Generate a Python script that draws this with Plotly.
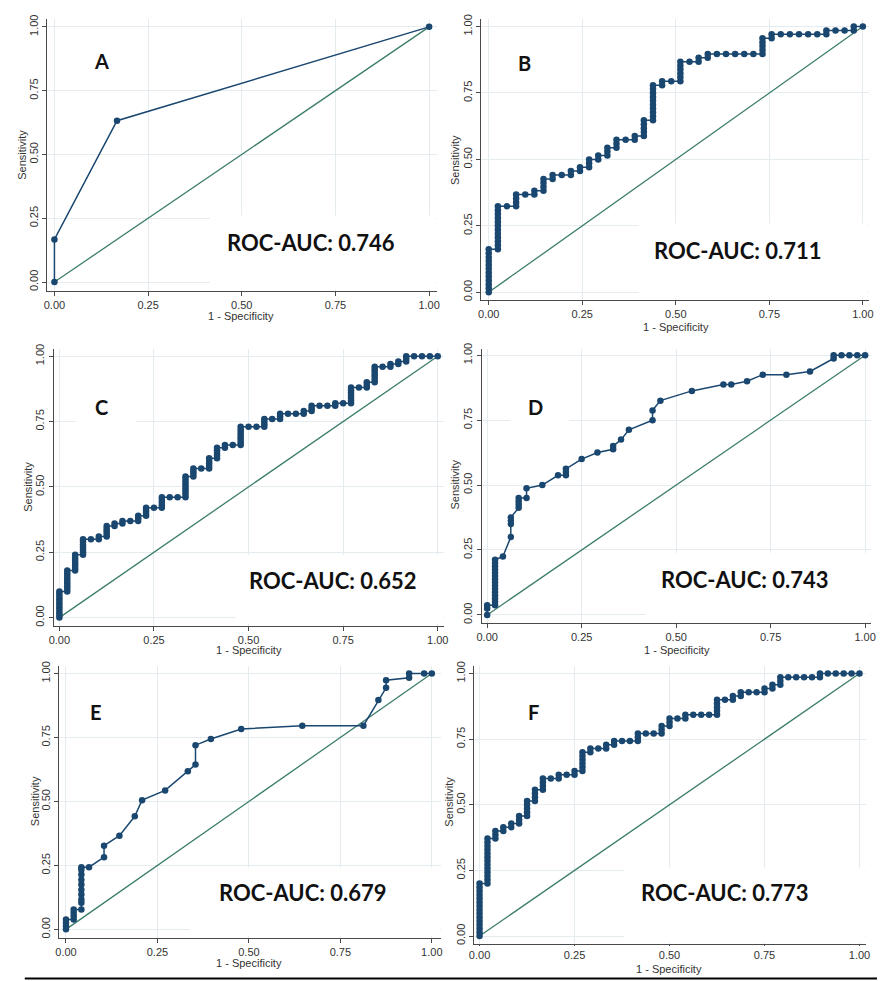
import plotly.graph_objects as go

# ------------------------------------------------------------------ data
panel_letters = ["A", "B", "C", "D", "E", "F"]
auc_values = ["0.746", "0.711", "0.652", "0.743", "0.679", "0.773"]
tick_values = [0.0, 0.25, 0.5, 0.75, 1.0]
tick_labels = ["0.00", "0.25", "0.50", "0.75", "1.00"]
x_title = "1 - Specificity"
y_title = "Sensitivity"
reference_x = [0.0, 1.0]
reference_y = [0.0, 1.0]

# Panel A: ROC coordinates
A_one_minus_spec = [0.0, 0.0, 0.167, 1.0]
A_sensitivity = [0.0, 0.167, 0.632, 1.0]

# Panel B: true-positive counts at each cutoff, listed per false-positive count 0..41
B_negatives, B_positives = 41, 68
B_tp_by_fp = [
    [0, 1, 2, 3, 4, 5, 6, 7, 8, 9, 10, 11],
    [11, 12, 13, 14, 15, 16, 17, 18, 19, 20, 21, 22],
    [22],
    [22, 23, 24, 25],
    [25],
    [25, 26],
    [26, 27, 28, 29],
    [29, 30],
    [30],
    [30, 31],
    [31, 32],
    [32, 33, 34],
    [34, 35],
    [35, 36, 37],
    [37, 38, 39],
    [39],
    [39, 40],
    [40, 41, 42, 43, 44],
    [44, 45, 46, 47, 48, 49, 50, 51, 52, 53],
    [53, 54],
    [54],
    [54, 55, 56, 57, 58, 59],
    [59],
    [59, 60],
    [60, 61],
    [61], [61], [61], [61], [61],
    [61, 62, 63, 64, 65],
    [65, 66],
    [66], [66], [66], [66], [66],
    [66, 67],
    [67], [67],
    [67, 68],
    [68],
]

# Panel C: per false-positive count 0..48
C_negatives, C_positives = 48, 100
C_tp_by_fp = [
    [0, 1, 2, 3, 4, 5, 6, 7, 8, 9, 10],
    [10, 11, 12, 13, 14, 15, 16, 17, 18],
    [18, 19, 20, 21, 22, 23, 24],
    [24, 25, 26, 27, 28, 29, 30],
    [30],
    [30, 31],
    [31, 32, 33, 34, 35],
    [35, 36],
    [36, 37],
    [37],
    [37, 38, 39],
    [39, 40, 41, 42],
    [42],
    [42, 43, 44, 45, 46],
    [46],
    [46],
    [46, 47, 48, 49, 50, 51, 52, 53, 54],
    [54, 55, 56, 57],
    [57],
    [57, 58, 59, 60, 61],
    [61, 62, 63, 64, 65],
    [65, 66],
    [66],
    [66, 67, 68, 69, 70, 71, 72, 73],
    [73],
    [73],
    [73, 74, 75, 76],
    [76],
    [76, 77, 78],
    [78],
    [78],
    [78, 79],
    [79, 80, 81],
    [81],
    [81],
    [81, 82],
    [82],
    [82, 83, 84, 85, 86, 87, 88],
    [88],
    [88, 89, 90],
    [90, 91, 92, 93, 94, 95, 96],
    [96],
    [96, 97],
    [97, 98],
    [98, 99, 100],
    [100], [100], [100], [100],
]

# Panel D: per false-positive count 0..48 (empty = no cutoff at that count)
D_negatives, D_positives = 48, 80
D_tp_by_fp = [
    [0, 2, 3],                                                  # 0
    [3, 4, 5, 6, 7, 8, 9, 10, 11, 12, 13, 14, 15, 16, 17],      # 1
    [18],                                                       # 2
    [24, 28, 29, 30],                                           # 3
    [33, 34, 35, 36],                                           # 4
    [36, 39],                                                   # 5
    [],                                                         # 6
    [40],                                                       # 7
    [],                                                         # 8
    [43],                                                       # 9
    [43, 44, 45],                                               # 10
    [],                                                         # 11
    [48],                                                       # 12
    [],                                                         # 13
    [50],                                                       # 14
    [],                                                         # 15
    [51, 52],                                                   # 16
    [54],                                                       # 17
    [57],                                                       # 18
    [], [],                                                     # 19-20
    [60, 63],                                                   # 21
    [66],                                                       # 22
    [], [], [],                                                 # 23-25
    [69],                                                       # 26
    [], [], [],                                                 # 27-29
    [71],                                                       # 30
    [71],                                                       # 31
    [],                                                         # 32
    [72],                                                       # 33
    [],                                                         # 34
    [74],                                                       # 35
    [], [],                                                     # 36-37
    [74],                                                       # 38
    [], [],                                                     # 39-40
    [75],                                                       # 41
    [], [],                                                     # 42-43
    [79, 80],                                                   # 44
    [80], [80], [80], [80],                                     # 45-48
]

# Panel E: ROC coordinates
E_one_minus_spec = [0.0, 0.0, 0.0, 0.0,
                    0.021, 0.021, 0.021, 0.021,
                    0.042, 0.042, 0.042, 0.042, 0.042, 0.042, 0.042, 0.042, 0.042, 0.042,
                    0.063, 0.104, 0.104, 0.146, 0.188, 0.208, 0.271, 0.333, 0.354, 0.354,
                    0.396, 0.479, 0.646, 0.813, 0.854, 0.875, 0.875, 0.938, 0.938, 0.979, 1.0]
E_sensitivity = [0.0, 0.013, 0.026, 0.039,
                 0.039, 0.052, 0.065, 0.078,
                 0.078, 0.104, 0.117, 0.136, 0.155, 0.175, 0.194, 0.214, 0.233, 0.243,
                 0.243, 0.282, 0.327, 0.366, 0.442, 0.505, 0.543, 0.618, 0.644, 0.72,
                 0.744, 0.783, 0.796, 0.796, 0.896, 0.944, 0.974, 0.983, 1.0, 1.0, 1.0]

# Panel F: per false-positive count 0..48
F_negatives, F_positives = 48, 70
F_tp_by_fp = [
    [0, 1, 2, 3, 4, 5, 6, 7, 8, 9, 10, 11, 12, 13, 14],
    [14, 15, 16, 17, 18, 19, 20, 21, 22, 23, 24, 25, 26],
    [26, 27, 28],
    [28, 29],
    [29, 30],
    [30, 31, 32],
    [32, 33, 34, 35, 36],
    [36, 37, 38, 39],
    [39, 40, 41, 42],
    [42],
    [42, 43],
    [43],
    [43, 44],
    [44, 45, 46, 47, 48, 49],
    [49, 50],
    [50],
    [50, 51],
    [51, 52],
    [52],
    [52],
    [52, 53, 54],
    [54],
    [54],
    [54, 55, 56],
    [56, 57, 58],
    [58],
    [58, 59],
    [59], [59], [59],
    [59, 60, 61, 62, 63],
    [63],
    [63, 64],
    [64, 65],
    [65], [65],
    [65, 66],
    [66, 67],
    [67, 68, 69],
    [69], [69], [69], [69],
    [69, 70],
    [70], [70], [70], [70], [70],
]


def roc_from_counts(tp_by_fp, n_neg, n_pos):
    xs, ys = [], []
    for fp, tps in enumerate(tp_by_fp):
        for tp in tps:
            xs.append(fp / n_neg)
            ys.append(tp / n_pos)
    return xs, ys


curves = [
    (A_one_minus_spec, A_sensitivity),
    roc_from_counts(B_tp_by_fp, B_negatives, B_positives),
    roc_from_counts(C_tp_by_fp, C_negatives, C_positives),
    roc_from_counts(D_tp_by_fp, D_negatives, D_positives),
    (E_one_minus_spec, E_sensitivity),
    roc_from_counts(F_tp_by_fp, F_negatives, F_positives),
]

# ------------------------------------------------------------------ layout (pixels)
W, H = 882, 981
NAVY = "#1a476f"
GREEN = "#3c7d69"
GRID = "#e4ecf0"
AXIS = "#4a4a4a"
TICKC = "#333333"

# left, right, top, bottom of axis box; pixel of x=0, x=1, y=0, y=1
geom = [
    (42.7, 437.0, 13.0, 287.0, 50.0, 429.0, 278.0, 21.0),
    (481.7, 873.7, 13.3, 296.0, 489.3, 867.7, 288.3, 20.7),
    (49.3, 444.0, 345.0, 624.0, 55.0, 437.7, 616.0, 352.7),
    (482.0, 876.0, 345.0, 621.7, 487.7, 870.0, 613.3, 351.7),
    (55.0, 441.0, 665.0, 938.3, 61.7, 431.7, 930.0, 672.3),
    (474.3, 871.0, 665.0, 945.0, 480.0, 864.3, 936.7, 672.3),
]
x_ticklen = [4, 4, 4, 4, 4, 1]
letter_pos = [(97.8, 55.5), (525.5, 57.2), (97.3, 403.8), (536.2, 403.8), (91.7, 710.8), (534.2, 710.8)]
auc_pos = [(310.0, 238.0), (741.0, 246.0), (332.2, 578.3), (748.8, 577.7), (301.2, 892.7), (728.3, 892.7)]
ytitle_pos = [(17.0, 150.0), (455.3, 155.0), (22.5, 484.0), (454.8, 482.3), (30.5, 800.7), (449.5, 801.0)]
xtitle_pos = [(239.0, 312.0), (678.3, 323.3), (246.7, 649.0), (679.3, 649.0), (246.7, 964.3), (671.7, 969.5)]
white_boxes = [
    (207, 436, 211, 285.5),
    (641, 872.5, 219, 294.5),
    (233, 443, 553, 622.5),
    (648, 875, 551, 620.5),
    (187, 440, 868, 937.0),
    (626, 870, 868, 943.5),
    (72, 133, 385, 428),
    (511, 571, 385, 428),
    (441, 446.5, 770, 835),
]


def px(x):
    return x / W


def py(y):
    return 1 - y / H


fig = go.Figure()
layout_axes = {}
annotations = []
shapes = []

for i, (L, R, T, B, x0, x1, y0, y1) in enumerate(geom):
    k = i + 1
    xname = "x" if k == 1 else f"x{k}"
    yname = "y" if k == 1 else f"y{k}"
    xs, ys = curves[i]
    fig.add_trace(go.Scatter(x=reference_x, y=reference_y, mode="lines",
                             line=dict(color=GREEN, width=1.3),
                             xaxis=xname, yaxis=yname, hoverinfo="skip"))
    fig.add_trace(go.Scatter(x=xs, y=ys, mode="lines+markers",
                             line=dict(color=NAVY, width=1.5),
                             marker=dict(size=6.5, color=NAVY),
                             xaxis=xname, yaxis=yname))
    common = dict(tickvals=tick_values, ticktext=tick_labels, showgrid=True,
                  gridcolor=GRID, gridwidth=1, zeroline=False, showline=True,
                  linecolor=AXIS, linewidth=1, ticks="outside",
                  tickcolor=AXIS, tickfont=dict(family="Liberation Sans", size=11, color=TICKC))
    layout_axes["xaxis" if k == 1 else f"xaxis{k}"] = dict(
        domain=[px(L), px(R)], range=[(L - x0) / (x1 - x0), (R - x0) / (x1 - x0)],
        anchor=yname, ticklen=x_ticklen[i], **common)
    layout_axes["yaxis" if k == 1 else f"yaxis{k}"] = dict(
        domain=[py(B), py(T)], range=[(y0 - B) / (y0 - y1), (y0 - T) / (y0 - y1)],
        anchor=xname, tickangle=-90, ticklen=4, **common)

for (x0b, x1b, y0b, y1b) in white_boxes:
    shapes.append(dict(type="rect", xref="paper", yref="paper",
                       x0=px(x0b), x1=px(x1b), y0=py(y1b), y1=py(y0b),
                       fillcolor="white", line=dict(width=0), layer="above"))

shapes.append(dict(type="line", xref="paper", yref="paper",
                   x0=px(20), x1=px(882), y0=py(979.5), y1=py(979.5),
                   line=dict(color="black", width=2)))

for i in range(6):
    lx, ly = letter_pos[i]
    annotations.append(dict(x=px(lx), y=py(ly), xref="paper", yref="paper",
                            text=f"<b>{panel_letters[i]}</b>", showarrow=False,
                            xanchor="center", yanchor="middle",
                            font=dict(family="Lato", size=20, color="#111111")))
    ax_, ay_ = auc_pos[i]
    annotations.append(dict(x=px(ax_), y=py(ay_), xref="paper", yref="paper",
                            text=f"<b>ROC-AUC: {auc_values[i]}</b>", showarrow=False,
                            xanchor="center", yanchor="middle",
                            font=dict(family="Lato", size=22, color="#111111")))
    tx, ty = ytitle_pos[i]
    annotations.append(dict(x=px(tx), y=py(ty), xref="paper", yref="paper",
                            text=y_title, showarrow=False, textangle=-90,
                            xanchor="center", yanchor="middle",
                            font=dict(family="Liberation Sans", size=11, color=TICKC)))
    sx, sy = xtitle_pos[i]
    annotations.append(dict(x=px(sx), y=py(sy), xref="paper", yref="paper",
                            text=x_title, showarrow=False,
                            xanchor="center", yanchor="middle",
                            font=dict(family="Liberation Sans", size=11, color=TICKC)))

fig.update_layout(width=W, height=H, margin=dict(l=0, r=0, t=0, b=0),
                  paper_bgcolor="white", plot_bgcolor="white", showlegend=False,
                  hovermode=False,
                  annotations=annotations, shapes=shapes, **layout_axes)

fig.write_html(
    "out.html",
    config={"displayModeBar": False, "staticPlot": True},
    post_script=("document.body.style.margin='0px';"
                 "document.body.style.padding='0px';"
                 "document.documentElement.style.overflow='hidden';"),
)
